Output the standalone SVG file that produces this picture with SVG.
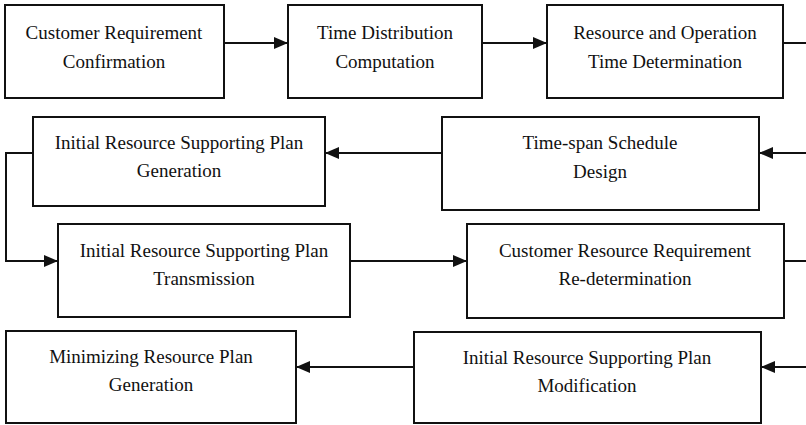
<svg xmlns="http://www.w3.org/2000/svg" width="806" height="425" viewBox="0 0 806 425">
<defs>
<marker id="arr" markerUnits="userSpaceOnUse" markerWidth="14" markerHeight="12" refX="14" refY="6" orient="auto">
<path d="M0,0 L14,6 L0,12 z" fill="#111"/>
</marker>
<style>
.box{fill:#fff;stroke:#111;stroke-width:2}
.t{font-family:"Liberation Serif","Times New Roman",serif;font-size:19px;fill:#111;text-anchor:middle}
.c{fill:none;stroke:#111;stroke-width:2}
</style>
</defs>
<rect width="806" height="425" fill="#fff"/>
<g id="n1"><rect class="box" x="5" y="5" width="219" height="93"/><text class="t" x="114" y="39">Customer Requirement</text><text class="t" x="114" y="68">Confirmation</text></g>
<g id="n2"><rect class="box" x="288" y="5" width="194" height="93"/><text class="t" x="385" y="39">Time Distribution</text><text class="t" x="385" y="68">Computation</text></g>
<g id="n3"><rect class="box" x="547" y="5" width="236" height="93"/><text class="t" x="665" y="39">Resource and Operation</text><text class="t" x="665" y="68">Time Determination</text></g>
<g id="n4"><rect class="box" x="442" y="117" width="317" height="93"/><text class="t" x="600" y="149">Time-span Schedule</text><text class="t" x="600" y="178">Design</text></g>
<g id="n5"><rect class="box" x="33" y="117" width="292" height="89"/><text class="t" x="179" y="149">Initial Resource Supporting Plan</text><text class="t" x="179" y="177">Generation</text></g>
<g id="n6"><rect class="box" x="58" y="224" width="292" height="93"/><text class="t" x="204" y="257">Initial Resource Supporting Plan</text><text class="t" x="204" y="285">Transmission</text></g>
<g id="n7"><rect class="box" x="467" y="224" width="317" height="94"/><text class="t" x="625" y="257">Customer Resource Requirement</text><text class="t" x="625" y="285">Re-determination</text></g>
<g id="n8"><rect class="box" x="414" y="332" width="347" height="91"/><text class="t" x="587" y="364">Initial Resource Supporting Plan</text><text class="t" x="587" y="392">Modification</text></g>
<g id="n9"><rect class="box" x="6" y="331" width="290" height="92"/><text class="t" x="151" y="363">Minimizing Resource Plan</text><text class="t" x="151" y="391">Generation</text></g>
<g id="connectors">
<line class="c" x1="224" y1="43" x2="288" y2="43" marker-end="url(#arr)"/>
<line class="c" x1="482" y1="43" x2="547" y2="43" marker-end="url(#arr)"/>
<line class="c" x1="783" y1="43" x2="806" y2="43"/>
<line class="c" x1="806" y1="153" x2="759" y2="153" marker-end="url(#arr)"/>
<line class="c" x1="442" y1="153" x2="325" y2="153" marker-end="url(#arr)"/>
<polyline class="c" points="33,153 6,153 6,261 58,261" marker-end="url(#arr)"/>
<line class="c" x1="350" y1="261" x2="467" y2="261" marker-end="url(#arr)"/>
<line class="c" x1="784" y1="261" x2="806" y2="261"/>
<line class="c" x1="806" y1="367" x2="761" y2="367" marker-end="url(#arr)"/>
<line class="c" x1="414" y1="367" x2="296" y2="367" marker-end="url(#arr)"/>
</g>
</svg>
